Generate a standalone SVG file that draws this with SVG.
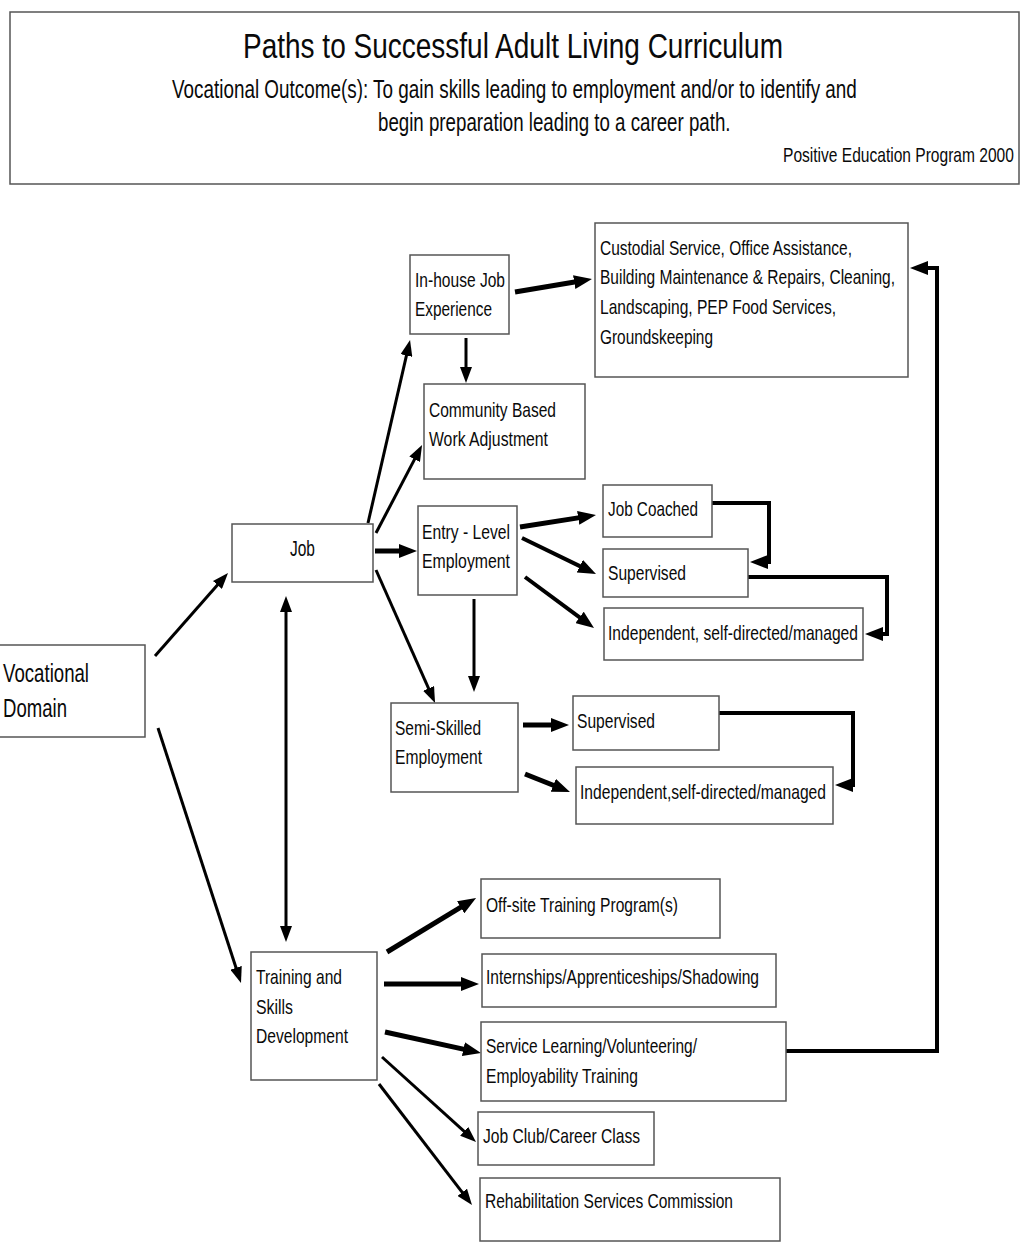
<svg xmlns="http://www.w3.org/2000/svg" width="1024" height="1247" viewBox="0 0 1024 1247">
<style>
  .box { fill: #ffffff; stroke: #555555; stroke-width: 1.5; }
  .t { font-family: "Liberation Sans Narrow", "Liberation Sans", Arial, sans-serif; font-size: 21px; fill: #0a0a0a; }
  .c1 { fill: none; stroke: #000000; stroke-width: 3; }
  .c2 { fill: none; stroke: #000000; stroke-width: 5; }
  .c3 { fill: none; stroke: #000000; stroke-width: 4; }
</style>
<defs>
  <marker id="ah" markerUnits="userSpaceOnUse" markerWidth="16" markerHeight="12" refX="6" refY="6" orient="auto">
    <path d="M0,0 L16,6 L0,12 z" fill="#000"/>
  </marker>
  <marker id="ahs" markerUnits="userSpaceOnUse" markerWidth="16" markerHeight="12" refX="6" refY="6" orient="auto-start-reverse">
    <path d="M0,0 L16,6 L0,12 z" fill="#000"/>
  </marker>
  <marker id="ahb" markerUnits="userSpaceOnUse" markerWidth="18" markerHeight="14" refX="8" refY="7" orient="auto">
    <path d="M0,0 L18,7 L0,14 z" fill="#000"/>
  </marker>
</defs>
<rect width="1024" height="1247" fill="#ffffff"/>

<g id="header">
  <rect class="box" x="10" y="12" width="1009" height="172"/>
  <text class="t" x="243" y="58" style="font-size:35px" textLength="540" lengthAdjust="spacingAndGlyphs">Paths to Successful Adult Living Curriculum</text>
  <text class="t" transform="translate(172,98) scale(0.78,1)" x="0" y="0" style="font-size:25px" textLength="878" lengthAdjust="spacingAndGlyphs">Vocational Outcome(s):  To gain skills leading to employment and/or to identify and</text>
  <text class="t" transform="translate(378,131) scale(0.78,1)" x="0" y="0" style="font-size:25px" textLength="452" lengthAdjust="spacingAndGlyphs">begin preparation leading to a career path.</text>
  <text class="t" transform="translate(783,162) scale(0.78,1)" x="0" y="0" style="font-size:20px" textLength="296" lengthAdjust="spacingAndGlyphs">Positive Education Program 2000</text>
</g>

<g id="connectors">
  <line class="c1" x1="155" y1="656" x2="221.4" y2="580.5" marker-end="url(#ah)"/>
  <line class="c1" x1="158" y1="728" x2="237.9" y2="973.5" marker-end="url(#ah)"/>
  <line class="c1" x1="286" y1="606" x2="286" y2="932" marker-start="url(#ahs)" marker-end="url(#ahs)"/>
  <line class="c1" x1="368" y1="523" x2="407.8" y2="349.7" marker-end="url(#ah)"/>
  <line class="c1" x1="376" y1="533" x2="417.4" y2="453.9" marker-end="url(#ah)"/>
  <line class="c2" x1="375" y1="551" x2="407" y2="551" marker-end="url(#ahb)"/>
  <line class="c1" x1="376" y1="570" x2="431" y2="693.9" marker-end="url(#ah)"/>
  <line class="c2" x1="515" y1="292" x2="582.1" y2="280.7" marker-end="url(#ahb)"/>
  <line class="c1" x1="466" y1="338" x2="466" y2="373" marker-end="url(#ah)"/>
  <line class="c2" x1="520" y1="527" x2="586.1" y2="516.6" marker-end="url(#ahb)"/>
  <line class="c3" x1="522" y1="538" x2="587" y2="569.6" marker-end="url(#ahb)"/>
  <line class="c3" x1="525" y1="577" x2="586" y2="622.1" marker-end="url(#ahb)"/>
  <line class="c1" x1="474" y1="599" x2="474" y2="682" marker-end="url(#ah)"/>
  <line class="c2" x1="523" y1="725" x2="559" y2="725" marker-end="url(#ahb)"/>
  <line class="c2" x1="525" y1="774" x2="560.7" y2="788.3" marker-end="url(#ahb)"/>
  <path class="c3" d="M712,503 H769 V562 H760" marker-end="url(#ahb)"/>
  <path class="c3" d="M748,577 H887 V634 H875" marker-end="url(#ahb)"/>
  <path class="c3" d="M719,713 H853 V785 H845" marker-end="url(#ahb)"/>
  <path class="c3" d="M786,1051 H937 V268 H920" marker-end="url(#ahb)"/>
  <line class="c2" x1="387" y1="952" x2="467.5" y2="903.2" marker-end="url(#ahb)"/>
  <line class="c2" x1="384" y1="984" x2="469" y2="984" marker-end="url(#ahb)"/>
  <line class="c2" x1="385" y1="1032" x2="471.2" y2="1050.9" marker-end="url(#ahb)"/>
  <line class="c1" x1="382" y1="1057" x2="468.6" y2="1135.3" marker-end="url(#ah)"/>
  <line class="c1" x1="379" y1="1084" x2="465.9" y2="1197.1" marker-end="url(#ah)"/>
</g>

<g id="vocational-domain">
  <rect class="box" x="-1" y="645" width="146" height="92"/>
  <text class="t" x="3" y="682" style="font-size:26px" textLength="86" lengthAdjust="spacingAndGlyphs">Vocational</text>
  <text class="t" x="3" y="717" style="font-size:26px" textLength="64" lengthAdjust="spacingAndGlyphs">Domain</text>
</g>

<g id="job">
  <rect class="box" x="232" y="524" width="141" height="58"/>
  <text class="t" x="290" y="556" style="font-size:22px" textLength="25" lengthAdjust="spacingAndGlyphs">Job</text>
</g>

<g id="in-house">
  <rect class="box" x="410" y="255" width="99" height="79"/>
  <text class="t" x="415" y="287" textLength="90" lengthAdjust="spacingAndGlyphs">In-house Job</text>
  <text class="t" x="415" y="316" textLength="77" lengthAdjust="spacingAndGlyphs">Experience</text>
</g>

<g id="custodial">
  <rect class="box" x="595" y="223" width="313" height="154"/>
  <text class="t" x="600" y="255" textLength="252" lengthAdjust="spacingAndGlyphs">Custodial Service, Office Assistance,</text>
  <text class="t" x="600" y="284" textLength="295" lengthAdjust="spacingAndGlyphs">Building Maintenance &amp; Repairs, Cleaning,</text>
  <text class="t" x="600" y="314" textLength="236" lengthAdjust="spacingAndGlyphs">Landscaping, PEP Food Services,</text>
  <text class="t" x="600" y="344" textLength="113" lengthAdjust="spacingAndGlyphs">Groundskeeping</text>
</g>

<g id="community">
  <rect class="box" x="424" y="384" width="161" height="95"/>
  <text class="t" x="429" y="417" textLength="127" lengthAdjust="spacingAndGlyphs">Community Based</text>
  <text class="t" x="429" y="446" textLength="119" lengthAdjust="spacingAndGlyphs">Work Adjustment</text>
</g>

<g id="entry-level">
  <rect class="box" x="418" y="506" width="99" height="89"/>
  <text class="t" x="422" y="539" textLength="88" lengthAdjust="spacingAndGlyphs">Entry - Level</text>
  <text class="t" x="422" y="568" textLength="88" lengthAdjust="spacingAndGlyphs">Employment</text>
</g>

<g id="job-coached">
  <rect class="box" x="603" y="485" width="109" height="52"/>
  <text class="t" x="608" y="516" textLength="90" lengthAdjust="spacingAndGlyphs">Job Coached</text>
</g>

<g id="supervised-1">
  <rect class="box" x="603" y="549" width="145" height="48"/>
  <text class="t" x="608" y="580" textLength="78" lengthAdjust="spacingAndGlyphs">Supervised</text>
</g>

<g id="independent-1">
  <rect class="box" x="604" y="608" width="259" height="52"/>
  <text class="t" x="608" y="640" textLength="250" lengthAdjust="spacingAndGlyphs">Independent, self-directed/managed</text>
</g>

<g id="semi-skilled">
  <rect class="box" x="391" y="703" width="127" height="89"/>
  <text class="t" x="395" y="735" textLength="86" lengthAdjust="spacingAndGlyphs">Semi-Skilled</text>
  <text class="t" x="395" y="764" textLength="87" lengthAdjust="spacingAndGlyphs">Employment</text>
</g>

<g id="supervised-2">
  <rect class="box" x="573" y="696" width="146" height="54"/>
  <text class="t" x="577" y="728" textLength="78" lengthAdjust="spacingAndGlyphs">Supervised</text>
</g>

<g id="independent-2">
  <rect class="box" x="576" y="767" width="257" height="57"/>
  <text class="t" x="580" y="799" textLength="246" lengthAdjust="spacingAndGlyphs">Independent,self-directed/managed</text>
</g>

<g id="training">
  <rect class="box" x="251" y="952" width="126" height="128"/>
  <text class="t" x="256" y="984" textLength="86" lengthAdjust="spacingAndGlyphs">Training and</text>
  <text class="t" x="256" y="1014" textLength="37" lengthAdjust="spacingAndGlyphs">Skills</text>
  <text class="t" x="256" y="1043" textLength="92" lengthAdjust="spacingAndGlyphs">Development</text>
</g>

<g id="off-site">
  <rect class="box" x="481" y="879" width="239" height="59"/>
  <text class="t" x="486" y="912" textLength="192" lengthAdjust="spacingAndGlyphs">Off-site Training Program(s)</text>
</g>

<g id="internships">
  <rect class="box" x="482" y="954" width="294" height="53"/>
  <text class="t" x="486" y="984" textLength="273" lengthAdjust="spacingAndGlyphs">Internships/Apprenticeships/Shadowing</text>
</g>

<g id="service-learning">
  <rect class="box" x="481" y="1022" width="305" height="79"/>
  <text class="t" x="486" y="1053" textLength="211" lengthAdjust="spacingAndGlyphs">Service Learning/Volunteering/</text>
  <text class="t" x="486" y="1083" textLength="152" lengthAdjust="spacingAndGlyphs">Employability Training</text>
</g>

<g id="job-club">
  <rect class="box" x="478" y="1112" width="176" height="53"/>
  <text class="t" x="483" y="1143" textLength="157" lengthAdjust="spacingAndGlyphs">Job Club/Career Class</text>
</g>

<g id="rehab">
  <rect class="box" x="480" y="1178" width="300" height="63"/>
  <text class="t" x="485" y="1208" textLength="248" lengthAdjust="spacingAndGlyphs">Rehabilitation Services Commission</text>
</g>
</svg>
